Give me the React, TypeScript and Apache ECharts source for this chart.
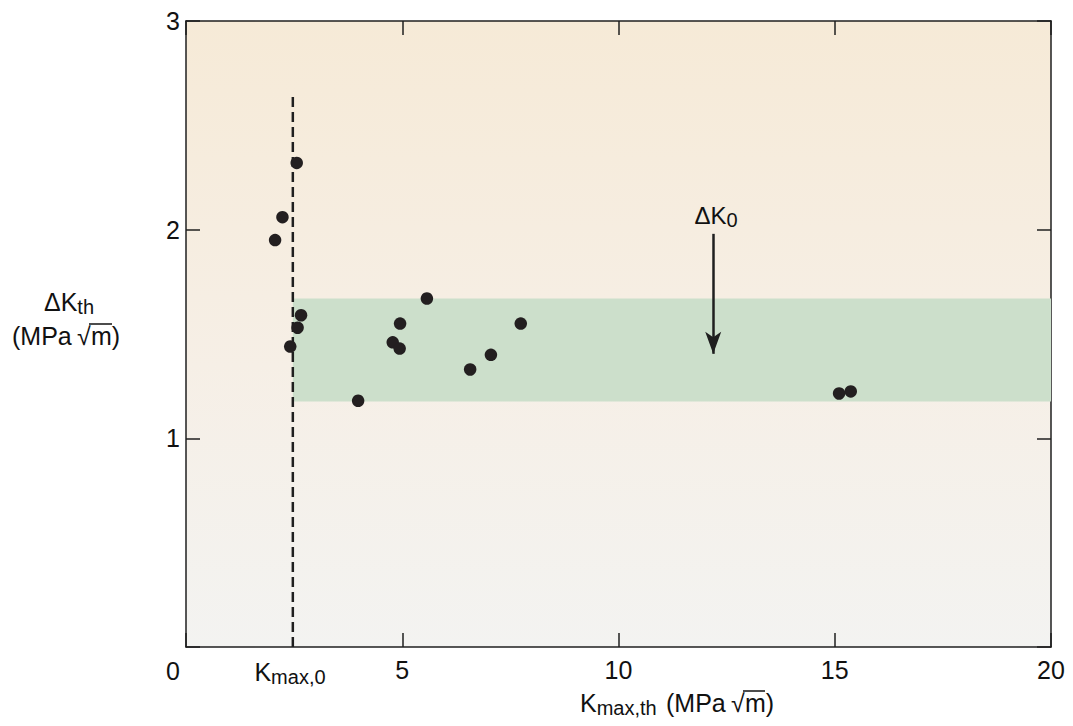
import React, { useEffect, useRef } from 'react';
import * as echarts from 'echarts';

const F = '"Liberation Sans", Arial, Helvetica, sans-serif';

// Data
const kmaxTh = [2.56, 2.23, 2.06, 2.66, 2.58, 2.41, 5.57, 4.95, 4.78, 4.94, 3.98, 7.74, 7.05, 6.57, 15.1, 15.37];
const deltaKth = [2.32, 2.06, 1.95, 1.59, 1.53, 1.44, 1.67, 1.55, 1.46, 1.43, 1.18, 1.55, 1.4, 1.33, 1.215, 1.225];
const xRange = [0, 20];
const yRange = [0, 3];
const xInterval = 5;
const yInterval = 1;
const kmax0 = 2.47;
const kmax0LineTop = 2.64;
const bandRange = [1.177, 1.67];
const arrowX = 12.19;
const arrowRange = [1.98, 1.405];

const INK = '#1f1f1f';

export default function App() {
  const ref = useRef<HTMLDivElement>(null);
  useEffect(() => {
    const chart = echarts.init(ref.current!, null, { renderer: 'svg' });
    const axisLine = { show: true, onZero: false, lineStyle: { color: INK, width: 1.5 } };
    const axisTick = { show: true, inside: true, length: 14, lineStyle: { color: INK, width: 1.5 } };
    const labelStyle = { fontSize: 25, fontFamily: F, color: '#111' };
    const baseRich = { fontSize: 25, fontFamily: F, fill: '#111', lineHeight: 30 };
    const subRich = { fontSize: 20, fontFamily: F, fill: '#111', lineHeight: 18, verticalAlign: 'bottom' };
    const txt = (x: number, y: number, text: string, align = 'left', rich: any = undefined) => ({
      type: 'text',
      x,
      y,
      style: {
        text,
        font: `25px ${F}`,
        fontSize: 25,
        fontFamily: F,
        fill: '#111',
        textAlign: align,
        textVerticalAlign: 'middle',
        rich,
      },
      z: 20,
    });
    const overline = (x1: number, x2: number, y: number) => ({
      type: 'line',
      shape: { x1, y1: y, x2, y2: y },
      style: { stroke: '#111', lineWidth: 1.5 },
      z: 20,
    });
    chart.setOption({
      animation: false,
      backgroundColor: '#ffffff',
      grid: {
        left: 186,
        top: 21,
        width: 865,
        height: 626,
        show: true,
        borderWidth: 0,
        backgroundColor: new echarts.graphic.LinearGradient(0, 0, 0, 1, [
          { offset: 0, color: '#F6EAD7' },
          { offset: 0.55, color: '#F6EFE6' },
          { offset: 1, color: '#F3F3F1' },
        ]),
      },
      xAxis: [
        {
          type: 'value', min: xRange[0], max: xRange[1], interval: xInterval, position: 'bottom',
          axisLine, axisTick, splitLine: { show: false },
          axisLabel: { ...labelStyle, margin: 10, formatter: (v: number) => (v === 0 ? '' : String(v)) },
        },
        {
          type: 'value', min: xRange[0], max: xRange[1], interval: xInterval, position: 'top',
          axisLine, axisTick, splitLine: { show: false }, axisLabel: { show: false },
        },
      ],
      yAxis: [
        {
          type: 'value', min: yRange[0], max: yRange[1], interval: yInterval, position: 'left',
          axisLine, axisTick, splitLine: { show: false },
          axisLabel: { ...labelStyle, margin: 6, formatter: (v: number) => (v === 0 ? '' : String(v)) },
        },
        {
          type: 'value', min: yRange[0], max: yRange[1], interval: yInterval, position: 'right',
          axisLine, axisTick, splitLine: { show: false }, axisLabel: { show: false },
        },
      ],
      series: [
        {
          type: 'line',
          data: [],
          z: 1,
          markArea: {
            silent: true,
            itemStyle: { color: '#CCDFCB' },
            data: [[{ coord: [kmax0, bandRange[1]] }, { coord: [xRange[1], bandRange[0]] }]],
          },
        },
        {
          type: 'line',
          data: [[kmax0, 0], [kmax0, kmax0LineTop]],
          symbol: 'none',
          z: 2,
          lineStyle: { color: INK, width: 2.5, type: [10, 5] },
        },
        {
          type: 'line',
          data: [],
          z: 3,
          markLine: {
            silent: true,
            symbol: ['none', 'arrow'],
            symbolSize: [12, 22],
            label: { show: false },
            lineStyle: { color: INK, width: 2.5, type: 'solid' },
            data: [[{ coord: [arrowX, arrowRange[0]] }, { coord: [arrowX, arrowRange[1]] }]],
          },
        },
        {
          type: 'scatter',
          data: kmaxTh.map((x, i) => [x, deltaKth[i]]),
          symbolSize: 12.5,
          z: 5,
          itemStyle: { color: '#231F20', opacity: 1 },
        },
      ],
      graphic: [
        txt(173, 671, '0', 'center'),
        txt(290, 672, '{k|K}{s|max,0}', 'center', { k: baseRich, s: subRich }),
        // x-axis title
        txt(580, 703, '{k|K}{s|max,th}', 'left', { k: baseRich, s: subRich }),
        txt(666, 703, '(MPa', 'left'),
        txt(731, 703, '√', 'left'),
        txt(745, 703, 'm)', 'left'),
        overline(743, 765, 691),
        // y-axis title
        txt(69, 302, '{k|ΔK}{s|th}', 'center', { k: baseRich, s: subRich }),
        txt(12, 336, '(MPa', 'left'),
        txt(77, 336, '√', 'left'),
        txt(91, 336, 'm)', 'left'),
        overline(89, 112, 324),
        // ΔK0 label
        txt(716, 215, '{k|ΔK}{s|0}', 'center', { k: { ...baseRich, fontSize: 24 }, s: subRich }),
      ],
    });
    return () => chart.dispose();
  }, []);
  return <div ref={ref} style={{ position: 'fixed', left: 0, top: 0, width: 1073, height: 726 }} />;
}
